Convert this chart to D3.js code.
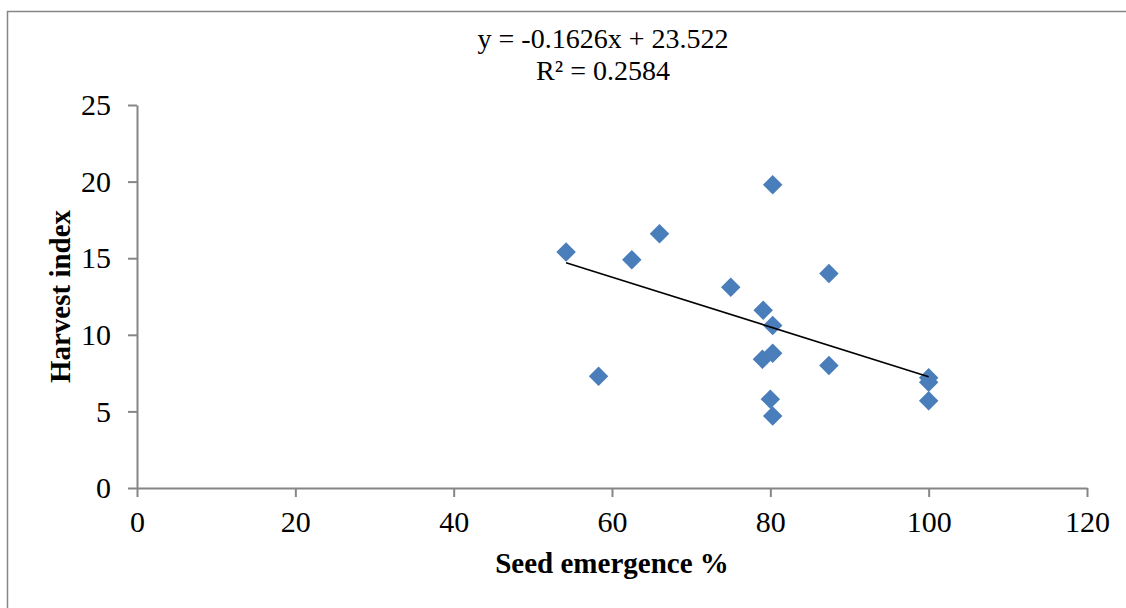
<!DOCTYPE html>
<html>
<head>
<meta charset="utf-8">
<script src="https://cdn.jsdelivr.net/npm/d3@7"></script>
<style>
  html, body { margin: 0; padding: 0; background: #fff; }
  svg { display: block; }
  text { font-family: "Liberation Serif", "Times New Roman", serif; fill: #000; }
</style>
</head>
<body>
<svg id="chart" width="1126" height="608"></svg>
<script>
// Seed emergence (%) vs harvest index observations
const seedEmergence = [54.2, 58.3, 62.5, 66.0, 75.0, 79.1, 79.0, 80.3, 80.3, 80.3, 80.0, 80.3, 87.4, 87.4, 100, 100, 100];
const harvestIndex  = [15.4, 7.3, 14.9, 16.6, 13.1, 11.6, 8.4, 10.6, 8.8, 19.8, 5.8, 4.7, 14.0, 8.0, 7.2, 6.9, 5.7];

// Linear trend line coefficients (as reported)
const slope = -0.1626;
const intercept = 23.522;
const rSquared = 0.2584;

const xTicks = [0, 20, 40, 60, 80, 100, 120];
const yTicks = [0, 5, 10, 15, 20, 25];

const xTitle = "Seed emergence %";
const yTitle = "Harvest index";

const svg = d3.select("#chart");
const axisColor = "#868686";
const markerColor = "#4A7EBB";
const tickFont = 30;
const titleFont = 29;
const eqFont = 28;

// Chart frame
svg.append("rect")
  .attr("x", 7.5).attr("y", 11.5)
  .attr("width", 1300).attr("height", 800)
  .attr("fill", "none").attr("stroke", axisColor).attr("stroke-width", 1.5);

const plot = { left: 137, right: 1087, top: 105, bottom: 488 };

const x = d3.scaleLinear().domain([0, 120]).range([plot.left, plot.right]);
const y = d3.scaleLinear().domain([0, 25]).range([plot.bottom, plot.top]);

// X axis
const xAxis = svg.append("g")
  .attr("transform", `translate(0,${plot.bottom})`)
  .call(d3.axisBottom(x).tickValues(xTicks).tickSize(9).tickSizeOuter(0).tickPadding(14).tickFormat(d3.format("d")));
xAxis.select(".domain").attr("stroke", axisColor).attr("stroke-width", 2);
xAxis.selectAll(".tick line").attr("stroke", axisColor).attr("stroke-width", 2);
xAxis.selectAll(".tick text").attr("font-size", tickFont).attr("fill", "#000");

// Y axis
const yAxis = svg.append("g")
  .attr("transform", `translate(${plot.left},0)`)
  .call(d3.axisLeft(y).tickValues(yTicks).tickSize(9).tickSizeOuter(0).tickPadding(17).tickFormat(d3.format("d")));
yAxis.select(".domain").attr("stroke", axisColor).attr("stroke-width", 2);
yAxis.selectAll(".tick line").attr("stroke", axisColor).attr("stroke-width", 2);
yAxis.selectAll(".tick text").attr("font-size", tickFont).attr("fill", "#000");

// Data points as diamonds
const points = seedEmergence.map((v, i) => ({ x: v, y: harvestIndex[i] }));
svg.append("g").selectAll("path")
  .data(points)
  .join("path")
  .attr("d", d3.symbol().type(d3.symbolSquare).size(190))
  .attr("transform", d => `translate(${x(d.x)},${y(d.y)}) rotate(45)`)
  .attr("fill", markerColor);

// Trend line across the observed x range
const xMin = d3.min(seedEmergence), xMax = d3.max(seedEmergence);
svg.append("line")
  .attr("x1", x(xMin)).attr("y1", y(slope * xMin + intercept))
  .attr("x2", x(xMax)).attr("y2", y(slope * xMax + intercept))
  .attr("stroke", "#000").attr("stroke-width", 1.6);

// Trend equation and R² (two lines)
svg.append("text")
  .attr("x", 603).attr("y", 48)
  .attr("text-anchor", "middle").attr("font-size", eqFont)
  .text(`y = ${slope}x + ${intercept}`);
svg.append("text")
  .attr("x", 603).attr("y", 80)
  .attr("text-anchor", "middle").attr("font-size", eqFont)
  .text(`R² = ${rSquared}`);

// Axis titles
svg.append("text")
  .attr("x", (plot.left + plot.right) / 2).attr("y", 573)
  .attr("text-anchor", "middle").attr("font-size", titleFont).attr("font-weight", "bold")
  .text(xTitle);

svg.append("text")
  .attr("transform", `translate(70,${(plot.top + plot.bottom) / 2}) rotate(-90)`)
  .attr("text-anchor", "middle").attr("font-size", titleFont).attr("font-weight", "bold")
  .text(yTitle);
</script>
</body>
</html>
